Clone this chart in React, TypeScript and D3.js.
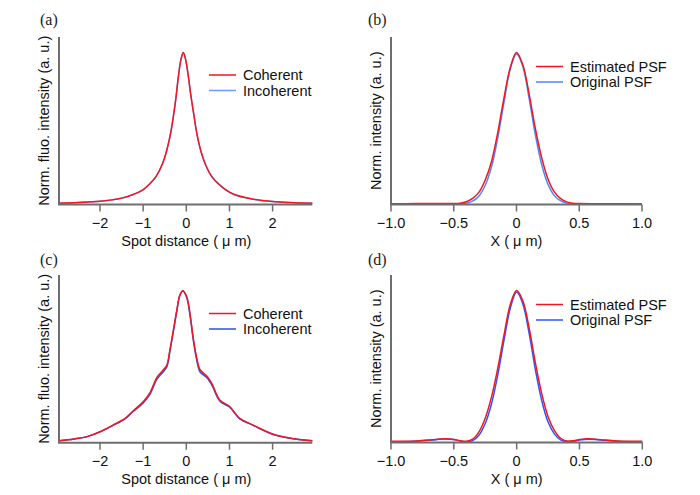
import React from "react";
import * as d3 from "d3";

// ---------- data ----------
const spotA = [-2.95, -2.5, -2, -1.5, -1.25, -1, -0.85, -0.7, -0.55, -0.45, -0.35, -0.25, -0.18, -0.12, -0.07, -0.02, 0.04, 0.1, 0.17, 0.25, 0.35, 0.45, 0.6, 0.75, 0.9, 1.1, 1.5, 2, 2.5, 2.92];
const coherentA = [0.009, 0.013, 0.021, 0.042, 0.064, 0.098, 0.135, 0.185, 0.27, 0.36, 0.49, 0.68, 0.85, 0.96, 1.0, 0.96, 0.86, 0.73, 0.6, 0.46, 0.34, 0.26, 0.18, 0.135, 0.1, 0.067, 0.038, 0.019, 0.012, 0.008];
const incoherentA = [0.009, 0.013, 0.021, 0.041, 0.063, 0.097, 0.134, 0.183, 0.268, 0.358, 0.488, 0.678, 0.848, 0.958, 0.998, 0.958, 0.858, 0.728, 0.598, 0.458, 0.338, 0.258, 0.179, 0.134, 0.099, 0.066, 0.037, 0.019, 0.012, 0.008];

const spotC = [-2.95, -2.6, -2.3, -2.0, -1.7, -1.42, -1.23, -1.0, -0.84, -0.68, -0.53, -0.45, -0.38, -0.3, -0.22, -0.15, -0.08, 0.01, 0.085, 0.16, 0.24, 0.32, 0.47, 0.59, 0.78, 1.0, 1.24, 1.55, 2.0, 2.48, 2.92];
const coherentC = [0.013, 0.025, 0.04, 0.072, 0.116, 0.16, 0.21, 0.27, 0.33, 0.43, 0.48, 0.51, 0.61, 0.74, 0.87, 0.97, 1.0, 0.96, 0.85, 0.69, 0.56, 0.48, 0.44, 0.39, 0.28, 0.24, 0.16, 0.116, 0.057, 0.026, 0.013];
const incoherentC = [0.013, 0.025, 0.04, 0.071, 0.114, 0.157, 0.205, 0.262, 0.32, 0.418, 0.468, 0.5, 0.6, 0.73, 0.865, 0.968, 0.998, 0.955, 0.84, 0.68, 0.545, 0.465, 0.43, 0.38, 0.272, 0.235, 0.157, 0.114, 0.056, 0.026, 0.013];

const xB = [-1, -0.8, -0.6, -0.5, -0.45, -0.4, -0.35, -0.3, -0.25, -0.2, -0.15, -0.1, -0.05, 0, 0.05, 0.1, 0.15, 0.2, 0.25, 0.3, 0.35, 0.4, 0.45, 0.5, 0.6, 0.8, 1.0];
const estimatedB = [0.005, 0.006, 0.006, 0.006, 0.008, 0.018, 0.04, 0.08, 0.16, 0.28, 0.47, 0.7, 0.9, 1.0, 0.92, 0.73, 0.5, 0.31, 0.17, 0.085, 0.04, 0.017, 0.008, 0.006, 0.005, 0.005, 0.004];
const originalB = [0.003, 0.003, 0.003, 0.003, 0.004, 0.008, 0.022, 0.055, 0.125, 0.245, 0.435, 0.67, 0.89, 0.99, 0.91, 0.7, 0.46, 0.265, 0.135, 0.06, 0.025, 0.009, 0.004, 0.003, 0.003, 0.003, 0.003];

const xD = [-1, -0.9, -0.8, -0.7, -0.63, -0.57, -0.5, -0.45, -0.4, -0.35, -0.3, -0.25, -0.2, -0.15, -0.1, -0.05, 0, 0.05, 0.1, 0.15, 0.2, 0.25, 0.3, 0.35, 0.4, 0.45, 0.5, 0.57, 0.63, 0.7, 0.8, 0.9, 1.0];
const estimatedD = [0.008, 0.008, 0.01, 0.016, 0.022, 0.024, 0.02, 0.012, 0.008, 0.022, 0.07, 0.16, 0.3, 0.49, 0.71, 0.91, 1.0, 0.93, 0.75, 0.52, 0.32, 0.17, 0.08, 0.028, 0.01, 0.012, 0.019, 0.024, 0.022, 0.016, 0.01, 0.008, 0.008];
const originalD = [0.004, 0.005, 0.008, 0.014, 0.02, 0.023, 0.019, 0.01, 0.004, 0.012, 0.048, 0.125, 0.255, 0.445, 0.675, 0.885, 0.99, 0.91, 0.715, 0.475, 0.275, 0.135, 0.057, 0.017, 0.005, 0.008, 0.016, 0.022, 0.02, 0.014, 0.008, 0.005, 0.004];

const spotTicks = [-2, -1, 0, 1, 2];
const spotTickLabels = ["\u22122", "\u22121", "0", "1", "2"];
const xTicks = [-1, -0.5, 0, 0.5, 1];
const xTickLabels = ["\u22121.0", "\u22120.5", "0", "0.5", "1.0"];

const legendAC = ["Coherent", "Incoherent"];
const legendBD = ["Estimated PSF", "Original PSF"];

const RED = "#f2161f";
const SANS = "'Liberation Sans', Arial, sans-serif";

type PanelProps = {
  label: string;
  labelX: number;
  labelY: number;
  x0: number;
  x1: number;
  yBottom: number;
  yTop: number;
  domain: [number, number];
  ticks: number[];
  tickLabels: string[];
  xLabel: string;
  yLabel: string;
  xs: number[];
  redVals: number[];
  blueVals: number[];
  blue: string;
  legend: string[];
  legX: number;
  legY: number;
};

function Panel(p: PanelProps) {
  const x = d3.scaleLinear().domain(p.domain).range([p.x0, p.x1]);
  const y = d3.scaleLinear().domain([0, 1]).range([p.yBottom, p.yBottom - 152]);
  const line = d3
    .line<number>()
    .x((_, i) => x(p.xs[i]))
    .y((d) => y(d))
    .curve(d3.curveCatmullRom.alpha(0.5));
  const axisColor = "#6e6e6e";
  const midY = (p.yTop + p.yBottom) / 2;
  const yLabX = p.x0 - 10;
  return (
    <g>
      <text x={p.labelX} y={p.labelY} fontFamily="'Liberation Serif', 'Times New Roman', serif" fontSize={16} fill="#222">
        {p.label}
      </text>
      <path d={line(p.blueVals) || ""} fill="none" stroke={p.blue} strokeWidth={1.5} />
      <path d={line(p.redVals) || ""} fill="none" stroke={RED} strokeWidth={1.5} />
      <line x1={p.x0} x2={p.x0} y1={p.yTop} y2={p.yBottom} stroke={axisColor} strokeWidth={2} />
      <line x1={p.x0 - 1} x2={p.x1} y1={p.yBottom} y2={p.yBottom} stroke={axisColor} strokeWidth={2} />
      {p.ticks.map((t, i) => (
        <g key={i}>
          <line x1={x(t)} x2={x(t)} y1={p.yBottom} y2={p.yBottom + 7} stroke={axisColor} strokeWidth={1.5} />
          <text x={x(t)} y={p.yBottom + 23.5} textAnchor="middle" fontFamily={SANS} fontSize={14.5} fill="#111">
            {p.tickLabels[i]}
          </text>
        </g>
      ))}
      <text x={x(0)} y={p.yBottom + 41.5} textAnchor="middle" fontFamily={SANS} fontSize={14.5} fill="#111">
        {p.xLabel}
      </text>
      <text
        transform={`translate(${yLabX},${midY}) rotate(-90)`}
        textAnchor="middle"
        fontFamily={SANS}
        fontSize={14.5}
        fill="#111"
      >
        {p.yLabel}
      </text>
      {p.legend.map((s, i) => (
        <g key={s}>
          <line
            x1={p.legX}
            x2={p.legX + 27}
            y1={p.legY + i * 15.5}
            y2={p.legY + i * 15.5}
            stroke={i === 0 ? RED : p.blue}
            strokeWidth={1.5}
          />
          <text x={p.legX + 34} y={p.legY + i * 15.5 + 5} fontFamily={SANS} fontSize={14.5} fill="#111">
            {s}
          </text>
        </g>
      ))}
    </g>
  );
}

export default function App() {
  return (
    <svg width={700} height={495} style={{ position: "absolute", left: 0, top: 0, background: "#fff" }}>
      <rect width={700} height={495} fill="#fff" />
      <Panel
        label="(a)" labelX={40} labelY={25}
        x0={59} x1={312.3} yBottom={204.5} yTop={37} domain={[-2.95, 2.92]}
        ticks={spotTicks} tickLabels={spotTickLabels}
        xLabel="Spot distance ( μ m)" yLabel="Norm. fluo. intensity (a. u.)"
        xs={spotA} redVals={coherentA} blueVals={incoherentA} blue="#6b9bff"
        legend={legendAC} legX={209} legY={75}
      />
      <Panel
        label="(b)" labelX={368} labelY={25}
        x0={391} x1={642} yBottom={204.5} yTop={37} domain={[-1, 1]}
        ticks={xTicks} tickLabels={xTickLabels}
        xLabel="X ( μ m)" yLabel="Norm. intensity (a. u.)"
        xs={xB} redVals={estimatedB} blueVals={originalB} blue="#4f86ff"
        legend={legendBD} legX={536} legY={66.5}
      />
      <Panel
        label="(c)" labelX={40} labelY={265}
        x0={59} x1={312.3} yBottom={442.7} yTop={275} domain={[-2.95, 2.92]}
        ticks={spotTicks} tickLabels={spotTickLabels}
        xLabel="Spot distance ( μ m)" yLabel="Norm. fluo. intensity (a. u.)"
        xs={spotC} redVals={coherentC} blueVals={incoherentC} blue="#2d4fe6"
        legend={legendAC} legX={209} legY={313.5}
      />
      <Panel
        label="(d)" labelX={368} labelY={265}
        x0={391} x1={642.3} yBottom={442.5} yTop={275} domain={[-1, 1]}
        ticks={xTicks} tickLabels={xTickLabels}
        xLabel="X ( μ m)" yLabel="Norm. intensity (a. u.)"
        xs={xD} redVals={estimatedD} blueVals={originalD} blue="#2d55ff"
        legend={legendBD} legX={536} legY={304.5}
      />
    </svg>
  );
}
